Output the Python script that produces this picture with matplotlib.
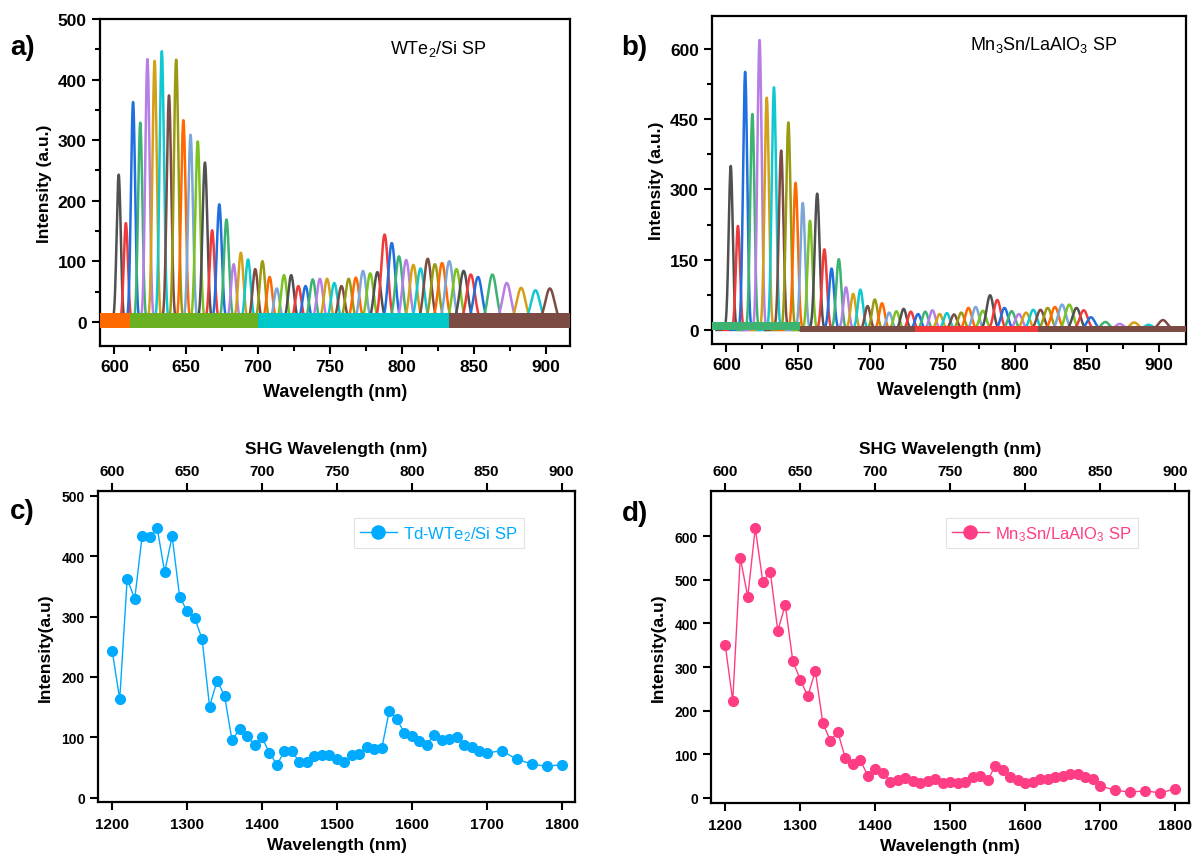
import numpy as np
import matplotlib
matplotlib.use("Agg")
import matplotlib.pyplot as plt
from matplotlib.ticker import MultipleLocator, FixedLocator

plt.rcParams['font.family'] = ['Liberation Sans', 'DejaVu Sans']
plt.rcParams['mathtext.fontset'] = 'custom'
plt.rcParams['mathtext.rm'] = 'Liberation Sans'
plt.rcParams['mathtext.default'] = 'regular'

# ---------------- data ----------------
# fundamental wavelengths (nm)
fund_wl = [1200, 1210, 1220, 1230, 1240, 1250, 1260, 1270, 1280, 1290,
           1300, 1310, 1320, 1330, 1340, 1350, 1360, 1370, 1380, 1390,
           1400, 1410, 1420, 1430, 1440, 1450, 1460, 1470, 1480, 1490,
           1500, 1510, 1520, 1530, 1540, 1550, 1560, 1570, 1580, 1590,
           1600, 1610, 1620, 1630, 1640, 1650, 1660, 1670, 1680, 1690,
           1700, 1720, 1740, 1760, 1780, 1800]
wte2_int = [243, 163, 363, 329, 434, 431, 447, 374, 433, 333,
            309, 298, 263, 151, 194, 169, 95, 114, 103, 87,
            100, 74, 55, 77, 77, 59, 59, 70, 71, 71,
            64, 59, 71, 73, 84, 80, 82, 144, 130, 108,
            102, 94, 88, 104, 95, 97, 100, 87, 84, 78,
            74, 78, 64, 56, 52, 55]
mn3sn_int = [350, 222, 551, 461, 619, 496, 518, 383, 443, 314,
             271, 233, 291, 172, 131, 151, 91, 77, 86, 51,
             65, 57, 37, 40, 45, 39, 34, 39, 42, 34,
             36, 33, 37, 47, 49, 41, 74, 64, 47, 40,
             34, 37, 43, 43, 47, 49, 54, 54, 47, 42,
             27, 17, 13, 16, 11, 21]

shg_ticks = [600, 650, 700, 750, 800, 850, 900]

# measured SHG peak positions sit ~3 nm above half the fundamental
shg_offset = 3.0
# peak width (sigma, nm) at 600 nm; broadens as (lambda/600)^2
sigma600 = 1.4

spec_colors = ['#505050', '#f03a3a', '#1f6fe0', '#3cb371', '#b77fe6', '#d4a017',
               '#10c8d0', '#7b4b44', '#9a9a12', '#ff6a00', '#7aa6d9', '#7cc221']

# baseline noise bands: (start, end, colour, low, high)
base_a = [(590, 611, '#ff6a00', -10, 14), (611, 700, '#6ab023', -10, 14),
          (700, 833, '#00c8c8', -10, 14), (833, 917, '#7b4b44', -10, 14)]
base_b = [(590, 651, '#3cb371', 0, 16), (651, 731, '#7b4b44', -5, 9),
          (731, 816, '#f03a3a', -5, 9), (816, 919, '#7b4b44', -5, 9)]

W, H = 1198, 862
fig = plt.figure(figsize=(W / 100, H / 100), dpi=100)

def px_axes(l, t, r, b):
    return fig.add_axes([l / W, 1 - b / H, (r - l) / W, (b - t) / H])

def style_axes(ax, lw=1.6):
    for s in ax.spines.values():
        s.set_linewidth(lw)
    ax.tick_params(which='both', direction='out', width=1.5, top=False, right=False)
    ax.tick_params(which='major', length=6)
    ax.tick_params(which='minor', length=3.5)

def draw_spectra(ax, values, bands):
    for i, (fw, v) in enumerate(zip(fund_wl, values)):
        c0 = fw / 2 + shg_offset
        sig = sigma600 * (c0 / 600) ** 2
        x = np.linspace(c0 - 7 * sig, c0 + 7 * sig, 200)
        y = v * np.exp(-0.5 * ((x - c0) / sig) ** 2)
        ax.plot(x, y, color=spec_colors[i % len(spec_colors)], lw=1.8, zorder=2)
    for (x0, x1, col, lo, hi) in bands:
        ax.fill_between([x0, x1], [lo, lo], [hi, hi], color=col, lw=0, zorder=3)

# ---------------- panel a ----------------
ax_a = px_axes(100, 20, 570, 347)
draw_spectra(ax_a, wte2_int, base_a)
ax_a.set_xlim(590, 917)
ax_a.set_ylim(-40, 500)
ax_a.xaxis.set_major_locator(MultipleLocator(50))
ax_a.xaxis.set_minor_locator(MultipleLocator(25))
ax_a.yaxis.set_major_locator(MultipleLocator(100))
ax_a.yaxis.set_minor_locator(MultipleLocator(50))
style_axes(ax_a)
for lab in ax_a.get_xticklabels() + ax_a.get_yticklabels():
    lab.set_fontsize(12.5); lab.set_fontweight('bold')
ax_a.set_xlabel('Wavelength (nm)', fontsize=13, fontweight='bold', labelpad=6)
ax_a.set_ylabel('Intensity (a.u.)', fontsize=12.5, fontweight='bold', labelpad=4)
ax_a.text(0.72, 0.91, 'WTe$_2$/Si SP', transform=ax_a.transAxes,
          fontsize=13, ha='center', va='center')

# ---------------- panel b ----------------
ax_b = px_axes(712, 17, 1186, 345)
draw_spectra(ax_b, mn3sn_int, base_b)
ax_b.set_xlim(590, 919)
ax_b.set_ylim(-30, 670)
ax_b.xaxis.set_major_locator(MultipleLocator(50))
ax_b.xaxis.set_minor_locator(MultipleLocator(25))
ax_b.yaxis.set_major_locator(MultipleLocator(150))
ax_b.yaxis.set_minor_locator(MultipleLocator(75))
style_axes(ax_b)
for lab in ax_b.get_xticklabels() + ax_b.get_yticklabels():
    lab.set_fontsize(12.5); lab.set_fontweight('bold')
ax_b.set_xlabel('Wavelength (nm)', fontsize=13, fontweight='bold', labelpad=6)
ax_b.set_ylabel('Intensity (a.u.)', fontsize=12.5, fontweight='bold', labelpad=4)
ax_b.text(0.70, 0.915, 'Mn$_3$Sn/LaAlO$_3$ SP', transform=ax_b.transAxes,
          fontsize=13, ha='center', va='center')

# ---------------- panels c, d ----------------
def dot_panel(box, values, color, label, ylim, yticks):
    ax = px_axes(*box)
    ax.plot(fund_wl, values, '-o', color=color, lw=1.0, ms=7, label=label)
    ax.set_xlim(1181, 1818)
    ax.set_ylim(*ylim)
    ax.xaxis.set_major_locator(MultipleLocator(100))
    ax.yaxis.set_major_locator(FixedLocator(yticks))
    style_axes(ax)
    ax.tick_params(axis='x', pad=5)
    for lab in ax.get_xticklabels():
        lab.set_fontsize(11); lab.set_fontweight('bold')
    for lab in ax.get_yticklabels():
        lab.set_fontsize(10); lab.set_fontweight('bold')
    ax.set_xlabel('Wavelength (nm)', fontsize=12.5, fontweight='bold', labelpad=4)
    ax.set_ylabel('Intensity(a.u)', fontsize=12.5, fontweight='bold', labelpad=6)
    sec = ax.secondary_xaxis('top', functions=(lambda x: x / 2, lambda x: x * 2))
    sec.xaxis.set_major_locator(FixedLocator(shg_ticks))
    sec.tick_params(direction='out', length=6, width=1.5)
    for lab in sec.get_xticklabels():
        lab.set_fontsize(11); lab.set_fontweight('bold')
    sec.set_xlabel('SHG Wavelength (nm)', fontsize=12.5, fontweight='bold', labelpad=8)
    leg = ax.legend(loc='upper right', bbox_to_anchor=(0.91, 0.94), fontsize=12,
                    frameon=True, fancybox=False, handlelength=2.2, borderpad=0.35,
                    handletextpad=0.4, markerscale=1.35)
    leg.get_frame().set_edgecolor('#dddddd')
    leg.get_frame().set_linewidth(0.8)
    for t in leg.get_texts():
        t.set_color(color)
    return ax

ax_c = dot_panel((98, 492, 575, 803), wte2_int, '#00aaff', 'Td-WTe$_2$/Si SP',
                 (-7, 508), [0, 100, 200, 300, 400, 500])
ax_d = dot_panel((711, 492, 1189, 804), mn3sn_int, '#ff3d85', 'Mn$_3$Sn/LaAlO$_3$ SP',
                 (-12, 704), [0, 100, 200, 300, 400, 500, 600])

# panel letters
for txt, x, y in [('a)', 10, 48), ('b)', 621, 48), ('c)', 10, 512), ('d)', 622, 514)]:
    fig.text(x / W, 1 - y / H, txt, fontsize=20, fontweight='bold', ha='left', va='center')

fig.savefig('out.png', dpi=100)
